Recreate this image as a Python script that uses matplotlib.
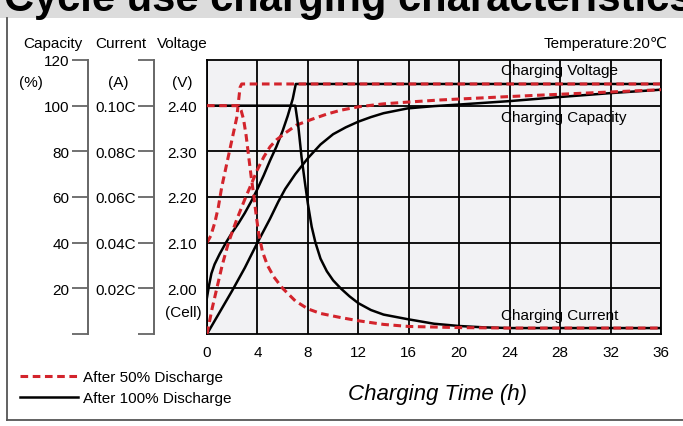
import matplotlib
matplotlib.use('Agg')
import matplotlib.pyplot as plt
from matplotlib.patches import Rectangle
from matplotlib.lines import Line2D

plt.rcParams['font.family'] = ['Liberation Sans', 'DejaVu Sans']

# ---- data (hours) ----
# after 50% discharge
v50_t = [0, 0.3, 0.63, 0.9, 1.17, 1.56, 1.96, 2.36, 2.62, 2.75, 36]
v50_v = [2.100, 2.115, 2.145, 2.178, 2.222, 2.272, 2.323, 2.374, 2.440, 2.4475, 2.4475]
i50_t = [0, 2.5, 2.7, 2.9, 3.1, 3.3, 3.5, 3.7, 3.9, 4.1, 4.4, 4.8, 5.3, 6.0, 7.0, 8.0, 9.0,
         10.6, 12, 14, 16, 20, 24, 36]
i50_c = [0.100, 0.100, 0.098, 0.094, 0.087, 0.078, 0.069, 0.061, 0.052, 0.044, 0.036, 0.030,
         0.025, 0.020, 0.0145, 0.011, 0.009, 0.0072, 0.0058, 0.0042, 0.0033, 0.0028, 0.0026, 0.0026]
c50_t = [0, 0.4, 0.8, 1.2, 1.7, 2.35, 3.0, 3.5, 4.0, 4.5, 5.0, 5.5, 6.2, 7.1, 8.3, 9.5, 10.6,
         12, 14, 16, 18.5, 24, 30, 36]
c50_p = [0, 11, 20.5, 30, 40, 50, 59, 65.5, 72, 77.5, 82, 85, 88, 91.5, 94, 96.3, 98,
         99.5, 100.8, 101.6, 102.5, 104, 105.5, 107]

# after 100% discharge
v100_t = [0, 0.15, 0.35, 0.6, 1.0, 1.5, 2.0, 2.5, 3.0, 3.5, 4.0, 4.5, 5.0, 5.5, 6.0, 6.4,
          6.8, 7.04, 36]
v100_v = [1.980, 2.005, 2.0325, 2.0525, 2.075, 2.100, 2.1225, 2.1425, 2.165, 2.190, 2.2175,
          2.2475, 2.280, 2.310, 2.345, 2.3775, 2.415, 2.4475, 2.4475]
i100_t = [0, 7.0, 7.25, 7.5, 7.78, 8.0, 8.3, 8.6, 9.0, 9.5, 10.0, 10.6, 11.3, 12.0, 13.0,
          14.0, 15.9, 18.0, 20.0, 22.0, 24.0, 36]
i100_c = [0.100, 0.100, 0.0905, 0.0773, 0.0657, 0.057, 0.047, 0.040, 0.033, 0.0275, 0.0235,
          0.020, 0.0165, 0.0135, 0.0105, 0.0085, 0.0065, 0.0045, 0.0035, 0.0029, 0.0026, 0.0026]
c100_t = [0, 1, 2, 3, 4, 5, 5.66, 6.2, 7, 8, 9, 10, 11, 12, 13, 14, 15.9, 18, 20, 24, 28, 32, 36]
c100_p = [0, 9.5, 19, 29, 40, 50.5, 58, 63.5, 70, 77, 83, 87.5, 90.5, 93, 95, 96.7, 98.8,
          99.8, 100.5, 102, 103.8, 105.5, 107]

x_ticks = [0, 4, 8, 12, 16, 20, 24, 28, 32, 36]
volt_ticks = [2.00, 2.10, 2.20, 2.30, 2.40]
cap_ticks = [0, 20, 40, 60, 80, 100, 120]
cap_labels = ['', '20', '40', '60', '80', '100', '120']
cur_ticks = [0, 0.02, 0.04, 0.06, 0.08, 0.10, 0.12]
cur_labels = ['', '0.02C', '0.04C', '0.06C', '0.08C', '0.10C', '']

RED = '#d3242c'
W, H = 683, 427

fig = plt.figure(figsize=(6.83, 4.27), dpi=100)

# title band
fig.patches.append(Rectangle((0, 1 - 18.5 / H), 1, 18.5 / H, transform=fig.transFigure,
                             facecolor='#dcdcdc', edgecolor='none', zorder=0))
fig.text(4 / W, 1 - 11 / H, 'Cycle use charging characteristics', fontsize=30,
         fontweight='bold', va='baseline', ha='left')
# outer frame (left + bottom)
fig.add_artist(Line2D([7 / W, 7 / W], [1 - 18.5 / H, 1 - 421 / H], transform=fig.transFigure,
                      color='#555555', lw=1.3))
fig.add_artist(Line2D([7 / W, 1], [1 - 421 / H, 1 - 421 / H], transform=fig.transFigure,
                      color='#555555', lw=1.3))

ax = fig.add_axes([207 / W, 1 - 335 / H, 454 / W, 274 / H])
ax.set_facecolor('#f2f2f4')
ax.set_xlim(0, 36)
ax.set_ylim(1.90, 2.50)
ax.set_xticks(x_ticks)
ax.set_yticks(volt_ticks)
ax.set_yticklabels(['%.2f' % v for v in volt_ticks])
ax.tick_params(axis='both', length=0, labelsize=11)
ax.tick_params(axis='y', pad=7)
ax.tick_params(axis='x', pad=8)
ax.grid(True, color='k', lw=1.3)
for s in ax.spines.values():
    s.set_color('k')
    s.set_linewidth(1.3)

# voltage curves
ax.plot(v100_t, v100_v, color='k', lw=1.8)
ax.plot(v50_t, v50_v, color=RED, lw=2.2, ls=(0, (2.5, 1.5)))

# capacity axis
ax_cap = ax.twinx()
ax_cap.set_ylim(0, 120)
for k in ['right', 'top', 'bottom']:
    ax_cap.spines[k].set_visible(False)
ax_cap.spines['left'].set_visible(True)
ax_cap.spines['left'].set_position(('axes', -0.263))
ax_cap.spines['left'].set_color('#666666')
ax_cap.spines['left'].set_linewidth(1.4)
ax_cap.yaxis.set_ticks_position('left')
ax_cap.set_yticks(cap_ticks)
ax_cap.set_yticklabels(cap_labels)
ax_cap.tick_params(axis='y', length=11.5, width=1.3, color='#666666', pad=1.5, labelsize=11)

l100, = ax_cap.plot(c100_t, c100_p, color='k', lw=1.8, label='After 100% Discharge')
l50, = ax_cap.plot(c50_t, c50_p, color=RED, lw=2.2, ls=(0, (2.5, 1.5)), label='After 50% Discharge')

# current axis
ax_cur = ax.twinx()
ax_cur.set_ylim(0, 0.12)
for k in ['right', 'top', 'bottom']:
    ax_cur.spines[k].set_visible(False)
ax_cur.spines['left'].set_visible(True)
ax_cur.spines['left'].set_position(('axes', -0.1167))
ax_cur.spines['left'].set_color('#666666')
ax_cur.spines['left'].set_linewidth(1.4)
ax_cur.yaxis.set_ticks_position('left')
ax_cur.set_yticks(cur_ticks)
ax_cur.set_yticklabels(cur_labels)
ax_cur.tick_params(axis='y', length=11.5, width=1.3, color='#666666', pad=1.5, labelsize=11)

ax_cur.plot(i100_t, i100_c, color='k', lw=1.8)
ax_cur.plot(i50_t, i50_c, color=RED, lw=2.2, ls=(0, (2.5, 1.5)))

# curve names
ax_cap.text(23.3, 115.6, 'Charging Voltage', fontsize=11, va='center')
ax_cap.text(23.3, 95.0, 'Charging Capacity', fontsize=11, va='center')
ax_cap.text(23.3, 8.3, 'Charging Current', fontsize=11, va='center')

# headers and units
fig.text(23 / W, 1 - 44 / H, 'Capacity', fontsize=11, va='center')
fig.text(95 / W, 1 - 44 / H, 'Current', fontsize=11, va='center')
fig.text(157 / W, 1 - 44 / H, 'Voltage', fontsize=11, va='center')
fig.text(668 / W, 1 - 44 / H, 'Temperature:20\u2103', fontsize=11, va='center', ha='right')
fig.text(31 / W, 1 - 83 / H, '(%)', fontsize=11, va='center', ha='center')
fig.text(118 / W, 1 - 83 / H, '(A)', fontsize=11, va='center', ha='center')
fig.text(182 / W, 1 - 83 / H, '(V)', fontsize=11, va='center', ha='center')
fig.text(183 / W, 1 - 313 / H, '(Cell)', fontsize=11, va='center', ha='center')

fig.text(437 / W, 1 - 395 / H, 'Charging Time (h)', fontsize=16, style='italic',
         va='center', ha='center')

fig.legend(handles=[l50, l100], loc='upper left', bbox_to_anchor=(20 / W, 1 - 371 / H),
           frameon=False, fontsize=11, handlelength=3.8, handletextpad=0.35,
           labelspacing=0.45, borderpad=0, borderaxespad=0)

plt.savefig('out.png', dpi=100)
plt.close()
